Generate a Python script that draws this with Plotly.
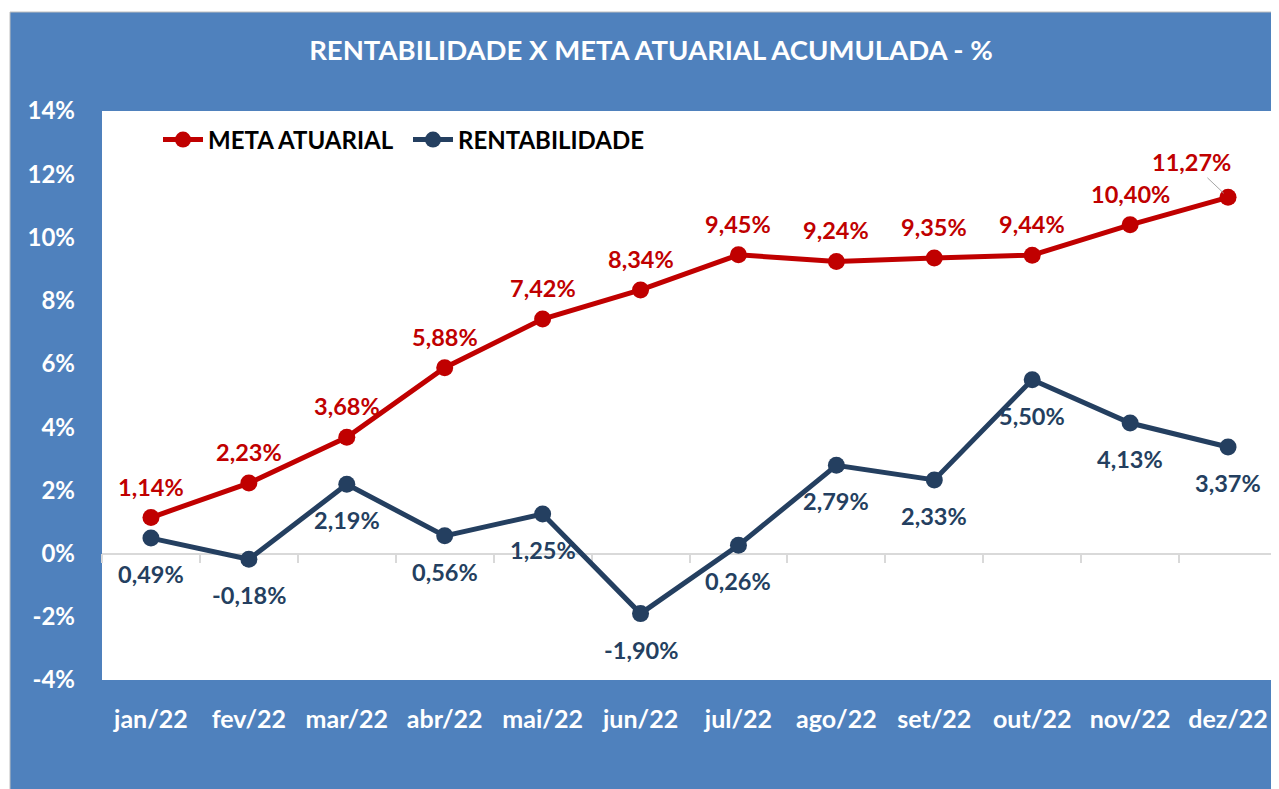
import plotly.graph_objects as go

# ---- data ----
months = ["jan/22", "fev/22", "mar/22", "abr/22", "mai/22", "jun/22",
          "jul/22", "ago/22", "set/22", "out/22", "nov/22", "dez/22"]
meta_atuarial = [1.14, 2.23, 3.68, 5.88, 7.42, 8.34, 9.45, 9.24, 9.35, 9.44, 10.40, 11.27]
rentabilidade = [0.49, -0.18, 2.19, 0.56, 1.25, -1.90, 0.26, 2.79, 2.33, 5.50, 4.13, 3.37]
y_ticks = [-4, -2, 0, 2, 4, 6, 8, 10, 12, 14]
y_tick_labels = [f"{v}%" for v in y_ticks]

title_text = "RENTABILIDADE X META ATUARIAL ACUMULADA - %"

# ---- styles ----
BLUE_BG = "#4F81BD"
RED = "#C00000"
NAVY = "#243F60"
GRAY = "#D9D9D9"
FONT = "Lato"

OFF = 8  # page body margin
W, H = 1279 - OFF, 789 - OFF
ML, MR, MT, MB = 102 - OFF, 2, 111 - OFF, 109
y_min, y_max = y_ticks[0], y_ticks[-1]


def fmt(v):
    return f"{v:.2f}".replace(".", ",") + "%"


fig = go.Figure()

fig.add_trace(go.Scatter(
    x=months, y=meta_atuarial, name="META ATUARIAL", mode="lines+markers",
    line=dict(color=RED, width=5), marker=dict(color=RED, size=17),
    hoverinfo="skip"))
fig.add_trace(go.Scatter(
    x=months, y=rentabilidade, name="RENTABILIDADE", mode="lines+markers",
    line=dict(color=NAVY, width=5), marker=dict(color=NAVY, size=17),
    hoverinfo="skip"))
# invisible trace that carries the zero-line category axis
fig.add_trace(go.Scatter(
    x=months, y=rentabilidade, xaxis="x2", mode="markers",
    marker=dict(opacity=0), showlegend=False, hoverinfo="skip"))

LBL = 23.5
annotations = []
for i, (m, v) in enumerate(zip(months, meta_atuarial)):
    if i == len(months) - 1:
        annotations.append(dict(
            x=m, y=v, text=f"<b>{fmt(v)}</b>", showarrow=True, ax=-37, ay=-35,
            arrowhead=0, arrowwidth=1, arrowcolor="#A6A6A6", standoff=6,
            font=dict(family=FONT, size=LBL, color=RED)))
    else:
        annotations.append(dict(
            x=m, y=v, text=f"<b>{fmt(v)}</b>", showarrow=False, yshift=31,
            font=dict(family=FONT, size=LBL, color=RED)))
for m, v in zip(months, rentabilidade):
    annotations.append(dict(
        x=m, y=v, text=f"<b>{fmt(v)}</b>", showarrow=False, yshift=-36,
        font=dict(family=FONT, size=LBL, color=NAVY)))

# background panels (blue box + white plot area), page-pixel based
px = lambda p: (p - OFF - ML) / (W - ML - MR)
py = lambda p: (H + OFF - MB - p) / (H - MT - MB)
shapes = [
    dict(type="rect", xref="paper", yref="paper", layer="below",
         x0=px(10), x1=px(1279 + 4), y0=py(789 + 4), y1=py(12),
         fillcolor=BLUE_BG, line=dict(color="#BFBFBF", width=1)),
    dict(type="rect", xref="paper", yref="paper", layer="below",
         x0=0, x1=1, y0=0, y1=1, fillcolor="white", line=dict(width=0)),
]

fig.update_layout(
    width=W, height=H,
    margin=dict(l=ML, r=MR, t=MT, b=MB),
    paper_bgcolor="white", plot_bgcolor="white",
    title=dict(text=f"<b>{title_text}</b>", x=(651 - OFF) / W, xref="container", xanchor="center",
               y=1 - (50 - OFF) / H, yref="container", yanchor="middle",
               font=dict(family=FONT, size=27.5, color="white")),
    showlegend=True,
    legend=dict(orientation="h", x=px(158), y=py(140),
                xanchor="left", yanchor="middle", bgcolor="rgba(0,0,0,0)",
                font=dict(family=FONT, size=24, color="black", weight="bold"),
                itemwidth=40, tracegroupgap=0,
                entrywidth=195, entrywidthmode="pixels"),
    xaxis=dict(type="category", categoryarray=months, range=[-0.5, len(months) - 0.5],
               showgrid=False, zeroline=False, showline=False, ticks="",
               ticklabelstandoff=22,
               tickfont=dict(family=FONT, size=25, color="white", weight="bold")),
    xaxis2=dict(type="category", categoryarray=months, range=[-0.5, len(months) - 0.5],
                overlaying="x", anchor="free",
                position=(0 - y_min) / (y_max - y_min), side="bottom",
                showgrid=False, zeroline=False, showline=True, linecolor=GRAY, linewidth=1.5,
                ticks="outside", tickson="boundaries", ticklen=9, tickcolor=GRAY, tickwidth=1.5,
                showticklabels=False, layer="below traces"),
    yaxis=dict(range=[y_min, y_max], tickmode="array", tickvals=y_ticks, ticktext=y_tick_labels,
               showgrid=False, zeroline=False, showline=False, ticks="",
               ticklabelstandoff=26,
               tickfont=dict(family=FONT, size=24, color="white", weight="bold")),
    annotations=annotations,
    shapes=shapes,
)

fig.write_html("out.html")
